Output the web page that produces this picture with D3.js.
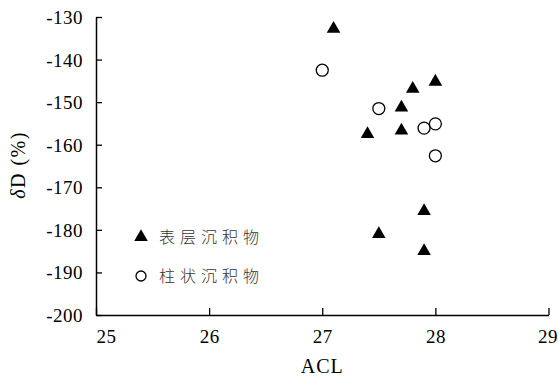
<!DOCTYPE html>
<html>
<head>
<meta charset="utf-8">
<script src="https://cdn.jsdelivr.net/npm/d3@7"></script>
<style>
  html, body { margin: 0; padding: 0; background: #fff; }
  svg { display: block; }
</style>
</head>
<body>
<svg id="chart" width="559" height="380"></svg>
<script>
// Surface sediments (filled triangles)
const surfaceACL = [27.1, 28.0, 27.8, 27.7, 27.4, 27.7, 27.9, 27.5, 27.9];
const surfaceDD  = [-132.8, -145.2, -146.9, -151.3, -157.5, -156.7, -175.6, -181.0, -185.0];
// Core sediments (open circles)
const coreACL = [27.0, 27.5, 27.9, 28.0, 28.0];
const coreDD  = [-142.5, -151.5, -156.1, -155.1, -162.6];

const xTicks = [25, 26, 27, 28, 29];
const yTicks = [-130, -140, -150, -160, -170, -180, -190, -200];
const legendLabels = ["表层沉积物", "柱状沉积物"];

const serif = "'Liberation Serif', 'Times New Roman', serif";
const svg = d3.select("#chart");
const plotLeft = 96, plotRight = 548.5, plotTop = 17, plotBottom = 315;

const x = d3.scaleLinear().domain([25, 29]).range([plotLeft, plotRight]);
const y = d3.scaleLinear().domain([-200, -130]).range([plotBottom, plotTop]);

// Y axis: ticks point inward
const yAxis = svg.append("g")
  .attr("transform", `translate(${plotLeft},0)`)
  .call(d3.axisLeft(y).tickValues(yTicks).tickFormat(d => String(d))
    .tickSizeInner(-6).tickSizeOuter(0).tickPadding(13));
yAxis.select(".domain").attr("stroke", "#000").attr("stroke-width", 1.5);
yAxis.selectAll(".tick line").attr("stroke", "#000").attr("stroke-width", 1.3);
yAxis.selectAll(".tick text")
  .attr("dy", "0.34em")
  .attr("fill", "#000")
  .style("font-family", serif)
  .style("font-size", "19px")
  .style("letter-spacing", "0.5px");

// X axis: ticks point upward; end labels kept inside the frame
const xAxis = svg.append("g")
  .attr("transform", `translate(0,${plotBottom})`)
  .call(d3.axisBottom(x).tickValues(xTicks).tickFormat(d3.format("d"))
    .tickSizeInner(-7).tickSizeOuter(0).tickPadding(14));
xAxis.select(".domain").attr("stroke", "#000").attr("stroke-width", 1.5);
xAxis.selectAll(".tick line").attr("stroke", "#000").attr("stroke-width", 1.3);
xAxis.selectAll(".tick text")
  .attr("y", 28).attr("dy", 0)
  .attr("fill", "#000")
  .attr("text-anchor", (d, i) => i === 0 ? "start" : (i === xTicks.length - 1 ? "end" : "middle"))
  .attr("dx", (d, i) => i === xTicks.length - 1 ? 9 : 0)
  .style("font-family", serif)
  .style("font-size", "19px")
  .style("letter-spacing", "0.5px");

// Axis titles
svg.append("text")
  .attr("x", x(27)).attr("y", 373)
  .attr("text-anchor", "middle")
  .style("font-family", serif)
  .style("font-size", "20px")
  .style("letter-spacing", "1px")
  .text("ACL");

const yTitle = svg.append("text")
  .attr("transform", `translate(25,165) rotate(-90)`)
  .attr("text-anchor", "middle")
  .style("font-family", serif)
  .style("font-size", "20px")
  .style("letter-spacing", "1.5px");
yTitle.append("tspan").style("font-style", "italic").text("δ");
yTitle.append("tspan").text("D (%)");

// Markers
const tri = d3.symbol().type(d3.symbolTriangle).size(80);

svg.append("g").selectAll("path")
  .data(surfaceACL.map((a, i) => [a, surfaceDD[i]]))
  .join("path")
  .attr("d", tri)
  .attr("transform", d => `translate(${x(d[0])},${y(d[1])})`)
  .attr("fill", "#000");

svg.append("g").selectAll("circle")
  .data(coreACL.map((a, i) => [a, coreDD[i]]))
  .join("circle")
  .attr("cx", d => x(d[0]))
  .attr("cy", d => y(d[1]))
  .attr("r", 6)
  .attr("fill", "#fff")
  .attr("stroke", "#000")
  .attr("stroke-width", 1.3);

// Legend
const legend = svg.append("g");
const legendY = [237, 276];
legend.append("path").attr("d", tri).attr("transform", `translate(141,${legendY[0]})`).attr("fill", "#000");
legend.append("circle").attr("cx", 141).attr("cy", legendY[1]).attr("r", 5).attr("fill", "#fff").attr("stroke", "#000").attr("stroke-width", 1.3);
legend.selectAll("text")
  .data(legendLabels)
  .join("text")
  .attr("x", 159)
  .attr("y", (d, i) => legendY[i])
  .attr("dy", "0.36em")
  .style("font-family", "'Noto Sans CJK SC', sans-serif")
  .style("font-size", "16px")
  .style("font-weight", "300")
  .style("letter-spacing", "5px")
  .attr("fill", "#333")
  .text(d => d);
</script>
</body>
</html>
